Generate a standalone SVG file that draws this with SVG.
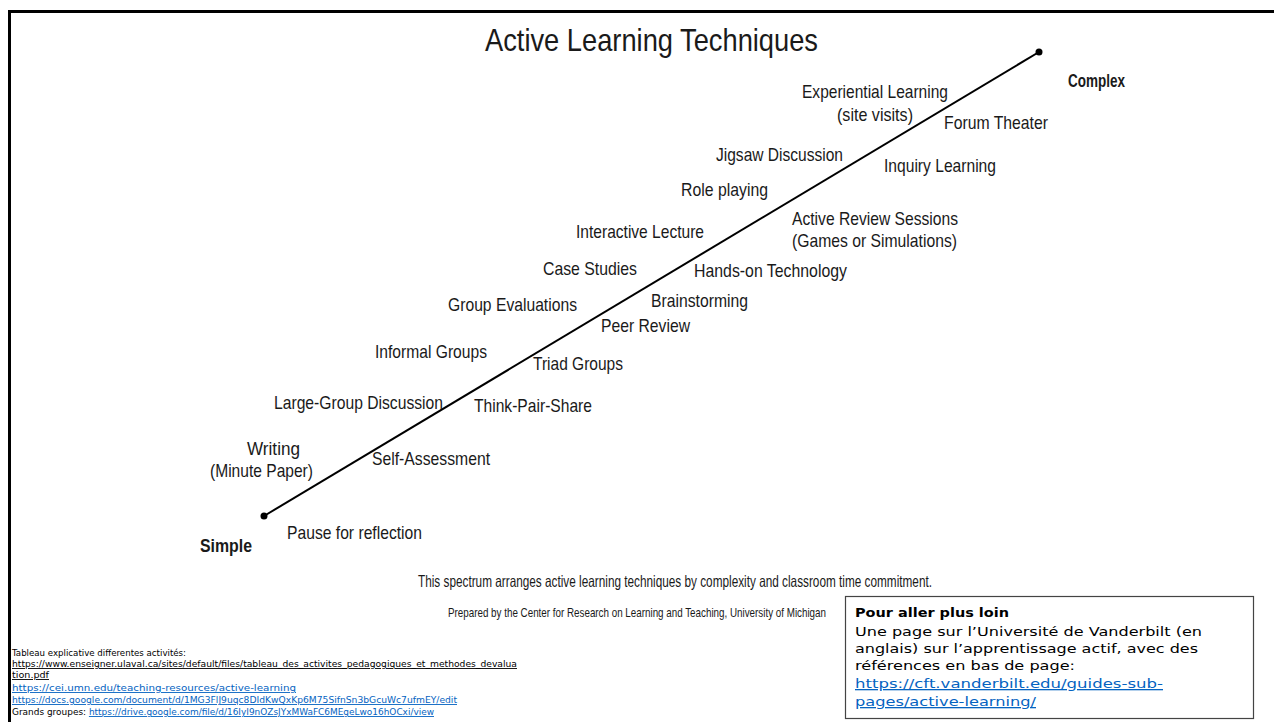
<svg xmlns="http://www.w3.org/2000/svg" width="1274" height="722" viewBox="0 0 1274 722">
<style>
.lbl{font-family:"Liberation Sans",Arial,sans-serif;font-size:19px;fill:#1a1a1a}
.bold{font-weight:bold}
.ttl{font-family:"Liberation Sans",Arial,sans-serif;font-size:32px;fill:#1a1a1a}
.cap{font-family:"Liberation Sans",Arial,sans-serif;font-size:16.5px;fill:#1a1a1a}
.small{font-family:"Liberation Sans",Arial,sans-serif;font-size:12px;fill:#1a1a1a}
.ref{font-family:"DejaVu Sans",Verdana,sans-serif;font-size:9px;fill:#000}
.box{font-family:"DejaVu Sans",Verdana,sans-serif;font-size:13px;fill:#000}
.ul{text-decoration:underline}
.link{fill:#0563C1;text-decoration:underline}
</style>
<rect width="1274" height="722" fill="#fff"/>
<g id="frame" fill="none" stroke="#000" stroke-width="3">
<path d="M9.5 722 V11.5 H1274"/>
</g>
<text class="ttl" x="485" y="51" textLength="333" lengthAdjust="spacingAndGlyphs">Active Learning Techniques</text>
<g id="connectors">
<line x1="264" y1="516" x2="1039" y2="52" stroke="#000" stroke-width="2"/>
<circle cx="264" cy="516" r="3.5" fill="#000"/>
<circle cx="1039" cy="52" r="3.5" fill="#000"/>
</g>
<g id="n-complex"><text class="lbl bold" x="1068" y="87" textLength="57" lengthAdjust="spacingAndGlyphs">Complex</text></g>
<g id="n-simple"><text class="lbl bold" x="200" y="552" textLength="52" lengthAdjust="spacingAndGlyphs">Simple</text></g>
<g id="n-experiential"><text class="lbl" x="802" y="98" textLength="146" lengthAdjust="spacingAndGlyphs">Experiential Learning</text><text class="lbl" x="837" y="121" textLength="76" lengthAdjust="spacingAndGlyphs">(site visits)</text></g>
<g id="n-forum"><text class="lbl" x="944" y="129" textLength="104" lengthAdjust="spacingAndGlyphs">Forum Theater</text></g>
<g id="n-jigsaw"><text class="lbl" x="716" y="161" textLength="127" lengthAdjust="spacingAndGlyphs">Jigsaw Discussion</text></g>
<g id="n-inquiry"><text class="lbl" x="884" y="172" textLength="112" lengthAdjust="spacingAndGlyphs">Inquiry Learning</text></g>
<g id="n-role"><text class="lbl" x="681" y="196" textLength="87" lengthAdjust="spacingAndGlyphs">Role playing</text></g>
<g id="n-review"><text class="lbl" x="792" y="225" textLength="166" lengthAdjust="spacingAndGlyphs">Active Review Sessions</text><text class="lbl" x="792" y="247" textLength="165" lengthAdjust="spacingAndGlyphs">(Games or Simulations)</text></g>
<g id="n-lecture"><text class="lbl" x="576" y="238" textLength="128" lengthAdjust="spacingAndGlyphs">Interactive Lecture</text></g>
<g id="n-case"><text class="lbl" x="543" y="275" textLength="94" lengthAdjust="spacingAndGlyphs">Case Studies</text></g>
<g id="n-hands"><text class="lbl" x="694" y="277" textLength="153" lengthAdjust="spacingAndGlyphs">Hands-on Technology</text></g>
<g id="n-brain"><text class="lbl" x="651" y="307" textLength="97" lengthAdjust="spacingAndGlyphs">Brainstorming</text></g>
<g id="n-groupeval"><text class="lbl" x="448" y="311" textLength="129" lengthAdjust="spacingAndGlyphs">Group Evaluations</text></g>
<g id="n-peer"><text class="lbl" x="601" y="332" textLength="89" lengthAdjust="spacingAndGlyphs">Peer Review</text></g>
<g id="n-informal"><text class="lbl" x="375" y="358" textLength="112" lengthAdjust="spacingAndGlyphs">Informal Groups</text></g>
<g id="n-triad"><text class="lbl" x="533" y="370" textLength="90" lengthAdjust="spacingAndGlyphs">Triad Groups</text></g>
<g id="n-large"><text class="lbl" x="274" y="409" textLength="169" lengthAdjust="spacingAndGlyphs">Large-Group Discussion</text></g>
<g id="n-think"><text class="lbl" x="474" y="412" textLength="118" lengthAdjust="spacingAndGlyphs">Think-Pair-Share</text></g>
<g id="n-writing"><text class="lbl" x="247" y="455" textLength="53" lengthAdjust="spacingAndGlyphs">Writing</text><text class="lbl" x="210" y="477" textLength="103" lengthAdjust="spacingAndGlyphs">(Minute Paper)</text></g>
<g id="n-self"><text class="lbl" x="372" y="465" textLength="118" lengthAdjust="spacingAndGlyphs">Self-Assessment</text></g>
<g id="n-pause"><text class="lbl" x="287" y="539" textLength="135" lengthAdjust="spacingAndGlyphs">Pause for reflection</text></g>
<text class="cap" x="418" y="587" textLength="514" lengthAdjust="spacingAndGlyphs">This spectrum arranges active learning techniques by complexity and classroom time commitment.</text>
<text class="small" transform="translate(448 617) scale(0.75 1)" x="0" y="0" textLength="504" lengthAdjust="spacingAndGlyphs">Prepared by the Center for Research on Learning and Teaching, University of Michigan</text>
<g id="refs">
<text class="ref" x="12" y="656" textLength="174" lengthAdjust="spacingAndGlyphs">Tableau explicative differentes activités:</text>
<text class="ref ul" x="12" y="667" textLength="505" lengthAdjust="spacingAndGlyphs">https://www.enseigner.ulaval.ca/sites/default/files/tableau_des_activites_pedagogiques_et_methodes_devalua</text>
<text class="ref ul" x="12" y="678" textLength="37" lengthAdjust="spacingAndGlyphs">tion.pdf</text>
<text class="ref link" x="12" y="691" textLength="284" lengthAdjust="spacingAndGlyphs">https://cei.umn.edu/teaching-resources/active-learning</text>
<text class="ref link" x="12" y="703" textLength="445" lengthAdjust="spacingAndGlyphs">https://docs.google.com/document/d/1MG3FlJ9uqc8DIdKwQxKp6M75SifnSn3bGcuWc7ufmEY/edit</text>
<text class="ref" x="12" y="715" textLength="422" lengthAdjust="spacingAndGlyphs">Grands groupes: <tspan class="link">https://drive.google.com/file/d/16IyI9nOZsJYxMWaFC6MEgeLwo16hOCxi/view</tspan></text>
</g>
<g id="n-more">
<rect x="845.5" y="596.5" width="408" height="122" fill="#fff" stroke="#444" stroke-width="1.2"/>
<text class="box bold" x="855" y="617" textLength="154" lengthAdjust="spacingAndGlyphs">Pour aller plus loin</text>
<text class="box" x="855" y="636" textLength="347" lengthAdjust="spacingAndGlyphs">Une page sur l’Université de Vanderbilt (en</text>
<text class="box" x="855" y="653" textLength="343" lengthAdjust="spacingAndGlyphs">anglais) sur l’apprentissage actif, avec des</text>
<text class="box" x="855" y="670" textLength="220" lengthAdjust="spacingAndGlyphs">références en bas de page:</text>
<text class="box link" x="855" y="688" textLength="308" lengthAdjust="spacingAndGlyphs">https://cft.vanderbilt.edu/guides-sub-</text>
<text class="box link" x="855" y="706" textLength="181" lengthAdjust="spacingAndGlyphs">pages/active-learning/</text>
</g>
</svg>
